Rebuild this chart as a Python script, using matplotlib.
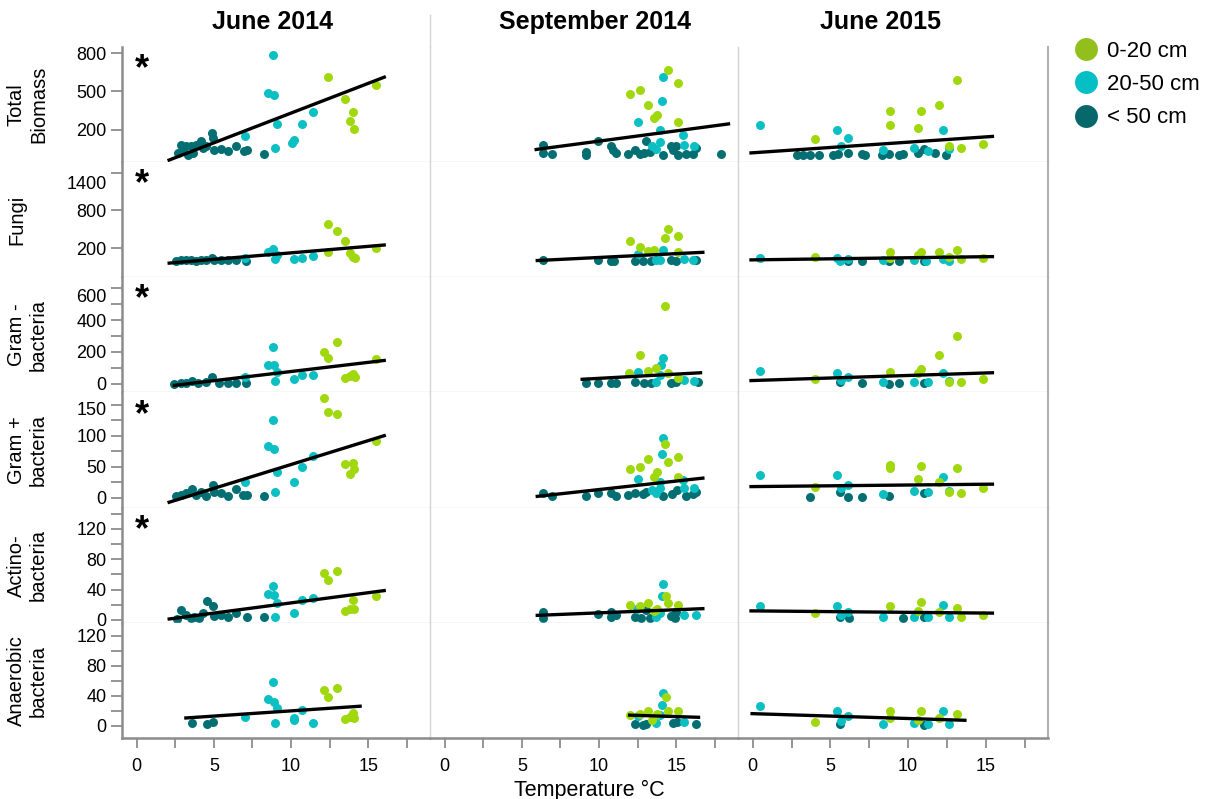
import matplotlib.pyplot as plt
from matplotlib.lines import Line2D
from matplotlib.ticker import FixedLocator, MultipleLocator, NullLocator
from matplotlib.transforms import ScaledTranslation

plt.rcParams['font.family'] = ['Liberation Sans', 'DejaVu Sans']

COLUMNS = ["June 2014", "September 2014", "June 2015"]
MEASURES = ["Total\nBiomass", "Fungi", "Gram -\nbacteria", "Gram +\nbacteria",
            "Actino-\nbacteria", "Anaerobic\nbacteria"]
DEPTHS = ["0-20 cm", "20-50 cm", "< 50 cm"]
# significant temperature effect (asterisk) per measure, June 2014 only
SIGNIF_JUN14 = [True, True, True, True, True, False]

# each panel: ([0-20 cm points], [20-50 cm points], [< 50 cm points]), point = (temp °C, value)
# ---- June 2014
jun14_biomass = (
    [(12.40, 617), (13.50, 442), (13.81, 265), (14.04, 335), (14.09, 208), (15.53, 549)],
    [(7.03, 148), (8.48, 487), (8.86, 787), (8.91, 469), (8.95, 59), (9.12, 244),
     (10.09, 96), (10.20, 116), (10.74, 247), (11.39, 335)],
    [(2.65, 17), (2.87, 82), (2.98, 30), (3.19, 69), (3.30, 4), (3.51, 69), (3.62, 17),
     (3.84, 82), (4.16, 109), (4.27, 56), (4.49, 69), (4.85, 174), (4.92, 135), (5.03, 43),
     (5.46, 49), (5.89, 36), (6.43, 75), (6.97, 30), (7.14, 38), (8.26, 12)],
)
jun14_fungi = (
    [(12.40, 587), (12.96, 470), (13.50, 321), (12.40, 146), (13.81, 119), (14.04, 55),
     (14.13, 50), (15.53, 199)],
    [(7.03, 40), (8.48, 135), (8.86, 183), (8.95, 23), (9.12, 93), (10.16, 23),
     (10.74, 50), (11.39, 82)],
    [(2.54, 0), (2.87, 5), (3.19, 10), (3.51, 5), (3.84, 0), (4.16, 5), (4.49, 10),
     (4.85, 50), (5.03, 10), (5.46, 5), (5.89, 5), (6.43, 10), (7.07, 0)],
)
jun14_gramneg = (
    [(12.14, 201), (12.40, 164), (12.96, 264), (13.50, 34), (13.81, 48), (14.04, 59),
     (14.13, 44), (15.53, 153)],
    [(7.03, 40), (8.48, 118), (8.86, 233), (8.91, 118), (8.95, 17), (9.12, 76),
     (10.16, 29), (10.74, 55), (11.39, 55)],
    [(2.43, 0), (2.87, 2), (3.19, 6), (3.56, 17), (3.95, 2), (4.49, 8), (4.87, 40),
     (5.35, 6), (5.89, 2), (6.43, 2), (7.07, 2)],
)
jun14_grampos = (
    [(12.14, 161), (12.40, 138), (12.96, 135), (13.50, 54), (13.81, 38), (14.04, 56),
     (14.09, 47), (15.53, 91)],
    [(7.03, 26), (8.48, 83), (8.86, 125), (8.91, 79), (8.95, 9), (9.12, 41),
     (10.16, 25), (10.74, 49), (11.39, 68)],
    [(2.54, 3), (2.87, 5), (3.19, 7), (3.56, 14), (3.84, 4), (4.16, 10), (4.49, 3),
     (4.92, 20), (5.03, 10), (5.46, 8), (5.89, 3), (6.43, 14), (6.86, 5), (7.14, 5), (8.26, 3)],
)
jun14_actino = (
    [(12.14, 62), (12.40, 53), (12.96, 64), (13.50, 12), (13.81, 14), (14.04, 26),
     (14.09, 14), (15.53, 32)],
    [(8.48, 34), (8.86, 45), (8.91, 33), (8.95, 4), (9.12, 22), (10.16, 9),
     (10.74, 26), (11.39, 29)],
    [(2.59, 1), (2.87, 13), (3.19, 7), (3.51, 2), (3.73, 4), (4.05, 2), (4.27, 9),
     (4.55, 25), (4.92, 18), (5.03, 5), (5.46, 7), (5.89, 4), (6.43, 9), (7.14, 4), (8.26, 4)],
)
jun14_anaer = (
    [(12.14, 48), (12.40, 38), (12.96, 50), (13.50, 9), (13.81, 11), (14.04, 17), (14.09, 10)],
    [(7.03, 12), (8.48, 35), (8.86, 58), (8.91, 31), (8.95, 4), (9.12, 23), (10.16, 10),
     (10.20, 7), (10.74, 21), (11.39, 3)],
    [(3.56, 4), (4.55, 2), (4.96, 5)],
)

# ---- September 2014
sep14_biomass = (
    [(14.46, 669), (12.62, 513), (12.02, 481), (15.10, 570), (13.20, 395), (13.53, 291),
     (13.74, 312), (15.10, 260)],
    [(14.13, 617), (14.07, 427), (12.51, 260), (13.98, 200), (15.43, 161), (15.53, 83),
     (13.98, 103), (13.44, 75), (13.70, 49), (16.12, 75)],
    [(6.36, 83), (6.36, 17), (6.97, 12), (9.92, 109), (9.13, 25), (9.13, 4), (10.79, 70),
     (10.90, 43), (11.07, 17), (11.87, 12), (12.36, 43), (12.62, 12), (13.05, 109),
     (12.94, 17), (13.27, 22), (14.13, 4), (14.67, 75), (15.00, 70), (14.78, 43),
     (15.10, 4), (15.64, 12), (16.07, 12), (16.29, 56), (17.91, 12)],
)
sep14_fungi = (
    [(12.02, 321), (12.62, 225), (14.46, 502), (14.30, 364), (15.10, 396), (13.16, 162),
     (13.53, 172), (15.10, 135)],
    [(12.51, 108), (14.13, 172), (13.92, 13), (13.70, 13), (15.53, 29), (16.07, 13)],
    [(6.36, 13), (9.92, 13), (10.79, 2), (11.00, 2), (12.30, 2), (12.84, 2), (13.38, 2),
     (14.67, 13), (15.00, 2), (16.29, 13)],
)
sep14_gramneg = (
    [(14.30, 491), (12.62, 180), (11.97, 65), (13.16, 82), (13.70, 96), (14.46, 65), (15.10, 33)],
    [(14.13, 159), (14.02, 117), (12.51, 71), (13.92, 55), (13.70, 13), (15.53, 23), (16.18, 19)],
    [(9.13, 2), (9.92, 2), (10.79, 2), (11.11, 2), (12.30, 8), (12.94, 2), (13.38, 2),
     (14.67, 2), (15.00, 8), (16.40, 8)],
)
sep14_grampos = (
    [(14.30, 87), (15.10, 66), (13.20, 63), (12.62, 50), (12.02, 47), (14.48, 57),
     (13.74, 42), (13.53, 33), (15.10, 33)],
    [(14.13, 96), (14.07, 71), (12.51, 30), (13.98, 26), (15.43, 29), (15.53, 15),
     (13.98, 15), (13.44, 12), (13.70, 8), (16.12, 15)],
    [(6.36, 7), (6.97, 3), (9.13, 3), (9.92, 8), (10.79, 7), (11.07, 3), (11.87, 4),
     (12.36, 7), (12.84, 6), (13.05, 10), (14.13, 3), (14.74, 6), (15.04, 12), (15.64, 3),
     (16.07, 6), (16.29, 10)],
)
sep14_actino = (
    [(14.35, 32), (12.02, 20), (12.62, 18), (13.20, 23), (14.48, 22), (15.10, 20),
     (13.74, 15), (13.53, 12)],
    [(14.17, 48), (14.07, 32), (12.45, 15), (13.92, 9), (13.70, 4), (15.53, 6), (16.29, 6)],
    [(6.36, 10), (6.36, 2), (9.92, 8), (10.79, 10), (10.79, 4), (11.11, 7), (12.30, 4),
     (12.73, 2), (13.05, 13), (13.27, 2), (14.67, 5), (15.00, 10), (14.89, 2)],
)
sep14_anaer = (
    [(14.35, 38), (12.02, 14), (12.62, 16), (13.20, 20), (14.48, 19), (15.10, 19),
     (13.74, 16), (13.44, 8)],
    [(14.17, 44), (14.07, 27), (13.98, 14), (13.70, 4), (15.53, 5), (12.51, 13)],
    [(12.36, 2), (12.84, 1), (13.05, 2), (14.78, 3), (15.04, 5), (16.29, 2)],
)

# ---- June 2015
jun15_biomass = (
    [(13.16, 591), (11.97, 390), (10.83, 343), (8.80, 343), (8.80, 239), (10.61, 213),
     (3.99, 127), (12.62, 75), (13.42, 56), (14.82, 90)],
    [(0.47, 239), (5.39, 200), (6.15, 135), (5.67, 75), (12.23, 200), (8.37, 38),
     (10.40, 56), (12.66, 49), (11.28, 30)],
    [(2.87, 4), (3.24, 4), (3.67, 4), (4.27, 4), (5.18, 4), (5.46, 12), (6.15, 17),
     (7.01, 12), (7.23, 4), (8.31, 4), (8.78, 12), (9.39, 4), (9.64, 12), (10.61, 17),
     (11.05, 49), (11.71, 17), (12.41, 4)],
)
jun15_fungi = (
    [(3.99, 55), (8.80, 135), (8.80, 40), (10.61, 93), (10.83, 135), (11.97, 146),
     (13.16, 172), (13.42, 29), (14.82, 40), (12.62, 55)],
    [(0.47, 40), (5.39, 40), (5.61, 2), (6.11, 23), (8.37, 13), (10.40, 13), (11.15, 2),
     (12.23, 29), (12.66, 2)],
    [(6.15, 0), (7.01, 2), (8.74, 0), (9.43, 2), (11.00, 0)],
)
jun15_gramneg = (
    [(13.16, 300), (11.97, 180), (10.83, 92), (10.61, 65), (8.80, 75), (3.99, 27),
     (12.62, 13), (13.42, 8), (14.82, 27)],
    [(0.47, 80), (5.39, 69), (5.67, 23), (6.11, 40), (8.37, 8), (10.40, 13), (11.28, 8),
     (12.23, 69), (12.66, 17)],
    [(5.61, 13), (7.01, 2), (8.74, 0), (9.43, 2), (11.00, 2)],
)
jun15_grampos = (
    [(8.80, 53), (8.80, 48), (10.83, 52), (10.61, 31), (13.16, 48), (11.97, 25),
     (3.99, 18), (13.42, 7), (14.82, 16), (12.62, 10)],
    [(0.47, 36), (5.39, 37), (5.67, 15), (6.11, 21), (8.37, 6), (10.40, 11), (11.28, 10),
     (12.23, 33), (12.66, 11)],
    [(3.67, 2), (5.61, 10), (6.15, 2), (7.01, 2), (8.78, 3), (11.00, 8)],
)
jun15_actino = (
    [(3.99, 9), (8.80, 18), (10.83, 24), (10.61, 12), (11.97, 10), (13.16, 16),
     (13.42, 4), (14.82, 6)],
    [(0.47, 18), (5.39, 18), (5.67, 6), (6.11, 11), (8.37, 4), (10.40, 4), (11.28, 4),
     (12.23, 20), (12.66, 4)],
    [(5.61, 4), (6.17, 2), (9.66, 2), (11.00, 4)],
)
jun15_anaer = (
    [(3.99, 5), (8.80, 19), (8.80, 10), (10.83, 19), (10.61, 8), (11.97, 10), (13.16, 15)],
    [(0.47, 26), (5.39, 20), (5.67, 6), (6.11, 13), (8.37, 2), (10.40, 3), (11.28, 2),
     (12.23, 19), (12.66, 2)],
    [(5.61, 2), (11.00, 1)],
)

# regression lines per measure: (temp start, value start, temp end, value end)
fits_jun14 = [(2.0, -43, 16.14, 617), (2.0, -40, 16.14, 252), (2.33, -12, 16.14, 147),
              (2.0, -8, 16.14, 101), (2.0, 1, 16.14, 39), (3.08, 10, 14.58, 26)]
fits_sep14 = [(5.82, 43, 18.49, 247), (5.89, 2, 16.83, 135), (8.80, 27, 16.68, 69),
              (5.89, 2, 16.83, 32), (5.89, 6, 16.83, 15), (11.87, 14, 16.55, 11)]
fits_jun15 = [(-0.22, 17, 15.53, 148), (-0.22, 13, 15.53, 66), (-0.22, 19, 15.53, 69),
              (-0.22, 18, 15.53, 22), (-0.22, 12, 15.53, 9), (-0.15, 16, 13.76, 7)]

panels = [
    [jun14_biomass, jun14_fungi, jun14_gramneg, jun14_grampos, jun14_actino, jun14_anaer],
    [sep14_biomass, sep14_fungi, sep14_gramneg, sep14_grampos, sep14_actino, sep14_anaer],
    [jun15_biomass, jun15_fungi, jun15_gramneg, jun15_grampos, jun15_actino, jun15_anaer],
]
fits = [fits_jun14, fits_sep14, fits_jun15]

# ---- styling
POINT_COLORS = ["#a0d80d", "#0bbfc3", "#036f72"]
LEGEND_COLORS = ["#93bf1c", "#05bfc4", "#06686b"]
AXIS_GREY = "#8c8c8c"
GRID_GREY = "#d4d4d4"

ylims = [(-52, 853), (-260, 1572), (-55, 670), (-16, 170), (-4, 148), (-17, 137)]
ymajor = [[200, 500, 800], [200, 800, 1400], 200, 50, 40, 40]
yminor = [None, None, 100, 25, 20, 20]
top_label_shift = [0, 10, 7, 4, 0, 0]   # px, vega pushes crowded top labels down

W, H = 1219, 799
fig = plt.figure(figsize=(W / 100, H / 100), dpi=100)

col_left = [122, 430, 738]
col_w = [308, 308, 310]
top0, row_h = 46.5, 115.3


def fx(px):
    return px / W


def fy(py):
    return 1 - py / H


for c in range(3):
    for r in range(6):
        ax = fig.add_axes([fx(col_left[c]), fy(top0 + row_h * (r + 1)),
                           col_w[c] / W, row_h / H])
        for d in (2, 1, 0):
            pts = panels[c][r][d]
            ax.scatter([p[0] for p in pts], [p[1] for p in pts], s=42,
                       color=POINT_COLORS[d], linewidths=0, zorder=2)
        x0, y0, x1, y1 = fits[c][r]
        ax.plot([x0, x1], [y0, y1], color="black", lw=2.4,
                solid_capstyle="butt", zorder=3)

        ax.set_xlim(-0.95, 19.0)
        ax.set_ylim(*ylims[r])

        for side in ("top", "right", "left", "bottom"):
            ax.spines[side].set_visible(False)
        # left edge
        ax.spines["left"].set_visible(True)
        if c == 0:
            ax.spines["left"].set_color(AXIS_GREY)
            ax.spines["left"].set_linewidth(1.8)
        else:
            ax.spines["left"].set_color(GRID_GREY)
            ax.spines["left"].set_linewidth(1.0)
        if c == 2:
            ax.spines["right"].set_visible(True)
            ax.spines["right"].set_color("#b0b0b0")
            ax.spines["right"].set_linewidth(1.5)
        ax.spines["bottom"].set_visible(True)
        if r == 5:
            ax.spines["bottom"].set_color(AXIS_GREY)
            ax.spines["bottom"].set_linewidth(1.8)
        else:
            ax.spines["bottom"].set_color(GRID_GREY)
            ax.spines["bottom"].set_linewidth(1.0)

        # x axis
        if r == 5:
            ax.xaxis.set_major_locator(MultipleLocator(5))
            ax.xaxis.set_minor_locator(MultipleLocator(2.5))
            ax.tick_params(axis="x", which="both", length=7, width=1.3,
                           color=AXIS_GREY, labelsize=13, pad=7)
        else:
            ax.xaxis.set_major_locator(NullLocator())
            ax.xaxis.set_minor_locator(NullLocator())

        # y axis
        if c == 0:
            if isinstance(ymajor[r], list):
                ax.yaxis.set_major_locator(FixedLocator(ymajor[r]))
            else:
                ax.yaxis.set_major_locator(MultipleLocator(ymajor[r]))
            if yminor[r]:
                ax.yaxis.set_minor_locator(MultipleLocator(yminor[r]))
            else:
                ax.yaxis.set_minor_locator(NullLocator())
            ax.tick_params(axis="y", which="both", length=8, width=1.3,
                           color=AXIS_GREY, labelsize=13, pad=3)
            if top_label_shift[r]:
                lo, hi = ylims[r]
                ticks = [t for t in ax.get_yticks() if lo <= t <= hi]
                idx = list(ax.get_yticks()).index(max(ticks))
                lab = ax.yaxis.get_major_ticks()[idx].label1
                lab.set_transform(lab.get_transform() + ScaledTranslation(
                    0, -top_label_shift[r] / 100, fig.dpi_scale_trans))
            if SIGNIF_JUN14[r]:
                ax.text(0.064, 0.80, "*", transform=ax.transAxes, fontsize=26,
                        fontweight="bold", ha="center", va="center")
        else:
            ax.yaxis.set_major_locator(NullLocator())
            ax.yaxis.set_minor_locator(NullLocator())

        if c == 0:
            fig.text(fx(7), fy(top0 + row_h * (r + 0.5)), MEASURES[r], rotation=90,
                     ha="left", va="center", multialignment="center", fontsize=14.5)

# column headers
for title, cx in zip(COLUMNS, [273, 595, 880]):
    fig.text(fx(cx), fy(22), title, ha="center", va="center",
             fontsize=18, fontweight="bold")
fig.add_artist(Line2D([fx(430), fx(430)], [fy(15), fy(top0)], color=GRID_GREY, lw=1.0))

fig.text(fx(589), fy(790), "Temperature °C", ha="center", va="center", fontsize=15.5)

handles = [Line2D([], [], marker="o", ls="", markersize=16.5, markeredgewidth=0,
                  color=col) for col in LEGEND_COLORS]
fig.legend(handles, DEPTHS, loc="upper left", bbox_to_anchor=(fx(1070), fy(41)),
           frameon=False, fontsize=16, handletextpad=0.25, labelspacing=0.55,
           borderaxespad=0, borderpad=0, handlelength=1.4)

fig.savefig("out.png", dpi=100)
